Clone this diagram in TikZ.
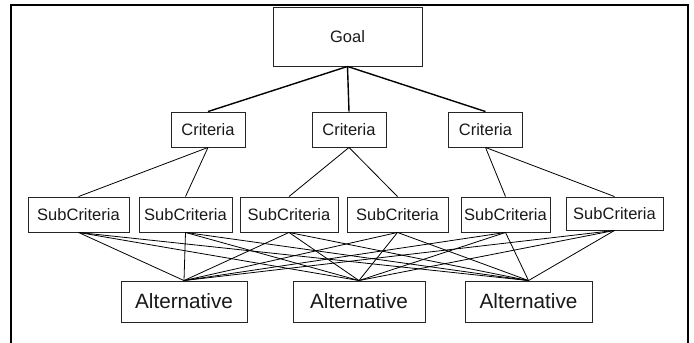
\documentclass[tikz,border=0pt]{standalone}
\usepackage{fontspec}
\setmainfont{Liberation Sans}
\begin{document}
\begin{tikzpicture}[x=1bp,y=1bp,
  box/.style={draw=black!85, line width=0.9bp, inner sep=0pt, text=black!90,
    font=\fontsize{16.5bp}{19bp}\selectfont},
  critbox/.style={box, minimum width=74bp, minimum height=35bp},
  subbox/.style={box, minimum height=35bp},
  altbox/.style={box, minimum height=41bp, font=\fontsize{20.7bp}{24bp}\selectfont},
  thick link/.style={line width=1.4bp},
  thin link/.style={line width=0.8bp}]
\useasboundingbox (0,0) rectangle (694,-342);
\fill[white] (0,0) rectangle (694,-342);
% frame
\draw[line width=2.2bp] (11,-345) -- (11,-5) -- (688,-5) -- (688,-345);
% goal
\node[box, minimum width=149bp, minimum height=59bp] (goal) at (347.5,-36.5) {Goal};
% criteria
\node[critbox] (c1) at (208,-129.5) {Criteria};
\node[critbox] (c2) at (349,-129.5) {Criteria};
\node[critbox] (c3) at (485.5,-129.5) {Criteria};
% subcriteria
\node[subbox, minimum width=101bp] (s1) at (78.5,-214.5) {SubCriteria};
\node[subbox, minimum width=93bp] (s2) at (185.5,-214.5) {SubCriteria};
\node[subbox, minimum width=98bp] (s3) at (289,-214.5) {SubCriteria};
\node[subbox, minimum width=101bp] (s4) at (397.5,-214.5) {SubCriteria};
\node[subbox, minimum width=89bp] (s5) at (505.5,-214.5) {SubCriteria};
\node[box, minimum width=97bp, minimum height=33bp] (s6) at (614.5,-213.5) {SubCriteria};
% alternatives
\node[altbox, minimum width=126bp] (a1) at (184,-301.5) {Alternative};
\node[altbox, minimum width=132bp] (a2) at (359,-301.5) {Alternative};
\node[altbox, minimum width=127bp] (a3) at (528.5,-301.5) {Alternative};
% goal links
\foreach \c in {c1,c2,c3} \draw[thick link] (goal.south) -- (\c.north);
% criteria links
\draw[thin link] (c1.south) -- (s1.north);
\draw[thin link] (c1.south) -- (s2.north);
\draw[thin link] (c2.south) -- (s3.north);
\draw[thin link] (c2.south) -- (s4.north);
\draw[thin link] (c3.south) -- (s5.north);
\draw[thin link] (c3.south) -- (s6.north);
% subcriteria to alternatives
\foreach \s in {s1,s2,s3,s4,s5,s6}
  \foreach \a in {a1,a2,a3}
    \draw[thin link] (\s.south) -- (\a.north);
\end{tikzpicture}
\end{document}
